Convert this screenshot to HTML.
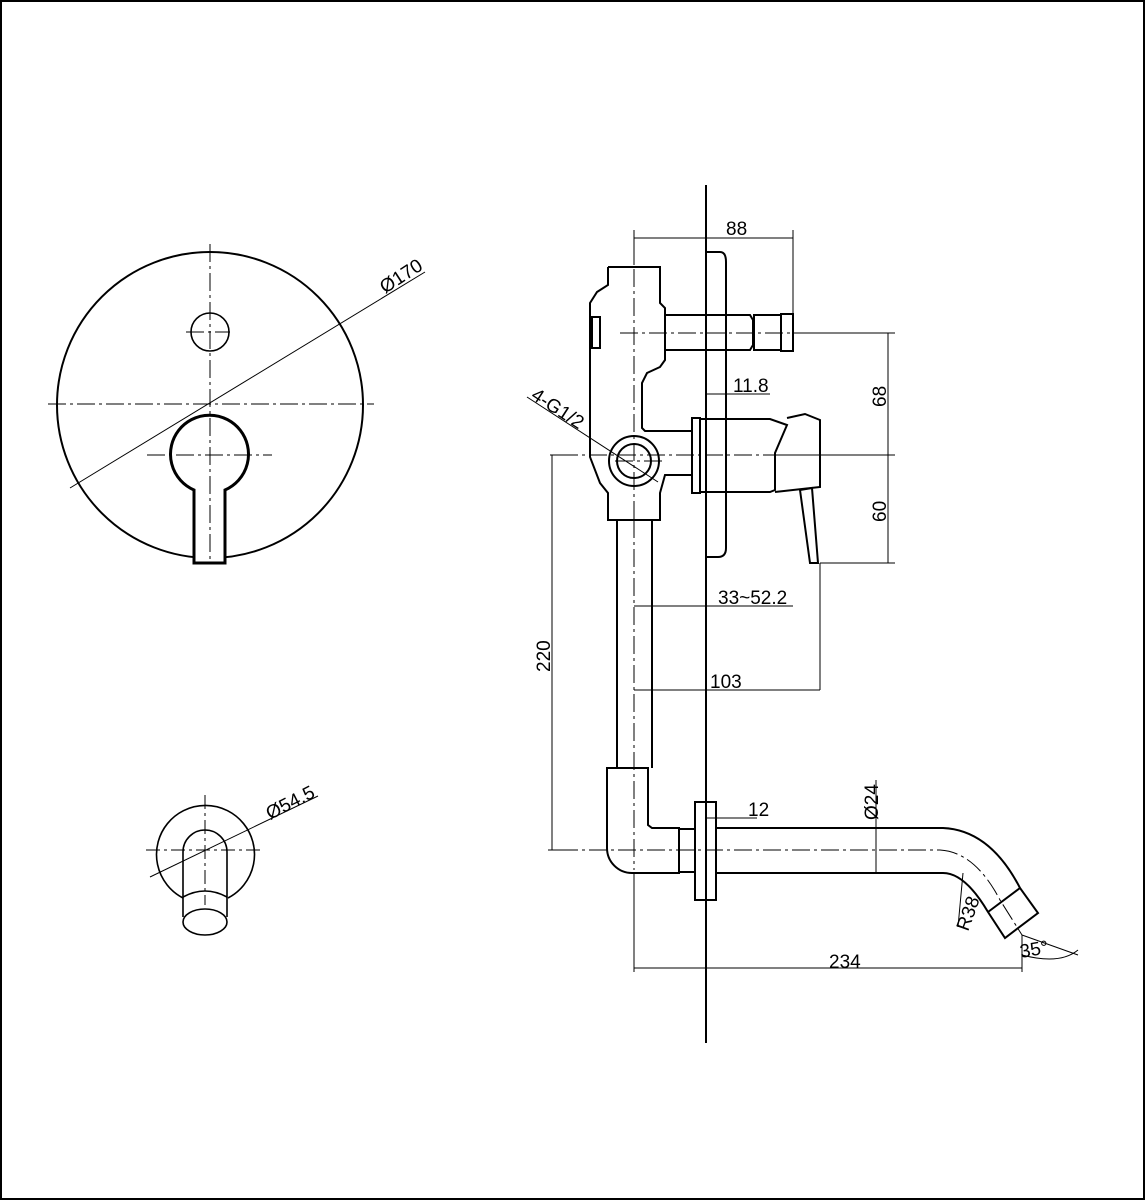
<!DOCTYPE html><html><head><style>html,body{margin:0;padding:0;background:#fff}svg{display:block}text{font-family:"Liberation Sans",sans-serif;font-size:19px;fill:#000}</style></head><body>
<svg width="1145" height="1200" viewBox="0 0 1145 1200" xmlns="http://www.w3.org/2000/svg">
<rect x="1" y="1" width="1143" height="1198" fill="#fff" stroke="#000" stroke-width="2"/>
<g fill="none" stroke="#000">
<g stroke-width="2">
<circle cx="210" cy="405" r="153"/>
<circle cx="210" cy="332" r="19" stroke-width="1.6"/>
<path d="M194,490 A39,39 0 1 1 225,490 L225,563 L194,563 Z" stroke-width="3" fill="#fff"/>
</g>
<g stroke-width="1" stroke-dasharray="18,4,3,4">
<line x1="48" y1="404" x2="374" y2="404"/><line x1="210" y1="244" x2="210" y2="560"/>
<line x1="186" y1="332" x2="230" y2="332"/><line x1="147" y1="455" x2="272" y2="455"/>
</g>
<line x1="70" y1="488" x2="425" y2="272" stroke-width="1"/>
<g stroke-width="1.6">
<path d="M183,898 A49,49 0 1 1 228,898"/>
<path d="M183,917 L183,852 A22,22 0 0 1 227,852 L227,917"/>
<path d="M183,897 Q205,885 227,897"/>
<ellipse cx="205" cy="922" rx="22" ry="13"/>
</g>
<g stroke-width="1" stroke-dasharray="14,4,3,4"><line x1="146" y1="850" x2="264" y2="850"/><line x1="205" y1="795" x2="205" y2="905"/></g>
<line x1="150" y1="877" x2="318" y2="796" stroke-width="1"/>
<line x1="706" y1="185" x2="706" y2="1043" stroke-width="2"/>
<g stroke-width="2">
<path d="M706,252 L720,252 Q726,252 726,262 L726,548 Q726,557 718,557 L706,557"/>
<path d="M608,267 L660,267 L660,303 L665,308 L665,360 L660,367 L647,373 L642,383 L642,428 L645,431 L692,431 M692,475 L665,475 L660,493 L660,520 L608,520 L608,493 L600,483 L590,457 L590,303 L597,292 L608,285 L608,267"/>
<rect x="592" y="317" width="8" height="31"/>
<circle cx="634" cy="461" r="25"/><circle cx="634" cy="461" r="17"/>
<path d="M665,315 L750,315 L753,320 L753,345 L750,350 L665,350"/>
<rect x="754" y="315" width="27" height="35"/><rect x="781" y="314" width="12" height="37"/>
<rect x="692" y="418" width="8" height="75"/>
<path d="M700,419 L770,419 L787,425 L775,453 L775,490 L770,492 L700,492"/>
<path d="M787,418 L805,414 L820,420 L820,487 L775,492"/>
<path d="M800,490 L812,488 L818,563 L810,563 Z"/>
<path d="M617,520 L617,768 M652,520 L652,768"/>
<path d="M607,768 L648,768 L648,825 L652,828 L679,828 L679,873 L632,873 A25,25 0 0 1 607,848 Z"/>
<rect x="679" y="829" width="16" height="43"/>
<rect x="695" y="802" width="21" height="98"/>
<path d="M716,828 L943,828 Q990,830 1020,888 L1038,913 L1005,938 L988,912 Q965,873 943,873 L716,873"/>
<line x1="988" y1="912" x2="1020" y2="888"/>
</g>
<g stroke-width="1" stroke-dasharray="18,4,3,4">
<line x1="634" y1="240" x2="634" y2="520"/><line x1="620" y1="333" x2="795" y2="333"/>
<line x1="560" y1="455" x2="780" y2="455"/><line x1="634" y1="520" x2="634" y2="870"/>
<line x1="560" y1="850" x2="940" y2="850"/><path d="M940,850 Q975,852 1000,900 L1022,935"/>
<line x1="615" y1="461" x2="662" y2="461"/>
</g>
<g stroke-width="1">
<line x1="634" y1="238" x2="793" y2="238"/><line x1="634" y1="230" x2="634" y2="262"/><line x1="793" y1="230" x2="793" y2="316"/>
<line x1="795" y1="333" x2="895" y2="333"/><line x1="780" y1="455" x2="895" y2="455"/><line x1="820" y1="563" x2="895" y2="563"/>
<line x1="888" y1="333" x2="888" y2="563"/>
<line x1="550" y1="455" x2="560" y2="455"/><line x1="552" y1="455" x2="552" y2="850"/><line x1="548" y1="850" x2="560" y2="850"/>
<line x1="706" y1="394" x2="770" y2="394"/>
<line x1="634" y1="606" x2="793" y2="606"/><line x1="634" y1="690" x2="820" y2="690"/><line x1="820" y1="563" x2="820" y2="690"/>
<line x1="527" y1="397" x2="658" y2="482"/>
<line x1="706" y1="818" x2="757" y2="818"/><line x1="876" y1="780" x2="876" y2="872"/>
<line x1="634" y1="872" x2="634" y2="972"/><line x1="1022" y1="935" x2="1022" y2="972"/><line x1="634" y1="968" x2="1022" y2="968"/>
<line x1="958" y1="927" x2="963" y2="873"/>
<path d="M1022,955 Q1060,965 1078,950"/><line x1="1022" y1="935" x2="1078" y2="955"/>
</g>
</g>
<text x="726" y="235">88</text>
<text x="733" y="392">11.8</text>
<text x="718" y="604">33~52.2</text>
<text x="710" y="688">103</text>
<text x="748" y="816">12</text>
<text x="829" y="968">234</text>
<text transform="translate(886,407) rotate(-90)">68</text>
<text transform="translate(886,522) rotate(-90)">60</text>
<text transform="translate(550,672) rotate(-90)">220</text>
<text transform="translate(878,820) rotate(-90)">Ø24</text>
<text transform="translate(968,932) rotate(-70)">R38</text>
<text transform="translate(1021,958) rotate(-10)">35°</text>
<text transform="translate(385,294) rotate(-33)">Ø170</text>
<text transform="translate(270,820) rotate(-27)">Ø54.5</text>
<text transform="translate(530,398) rotate(33)">4-G1/2</text>
</svg></body></html>
